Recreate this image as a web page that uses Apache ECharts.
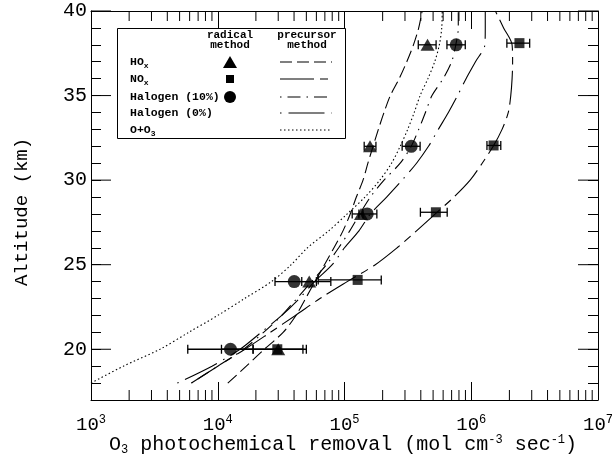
<!DOCTYPE html>
<html>
<head>
<meta charset="utf-8">
<script src="https://cdn.jsdelivr.net/npm/echarts@6/dist/echarts.min.js"></script>
<style>
  html, body { margin: 0; padding: 0; background: #fff; }
  #chart { width: 612px; height: 456px; }
</style>
</head>
<body>
<div id="chart"></div>
<script>
// ---- data (altitude in km, removal in mol cm^-3 s^-1) ----
const curveAlt = [18, 19, 20, 21, 22, 23, 24, 25, 26, 27, 28, 29, 30, 31, 32, 33, 34, 35, 36, 37, 38, 39, 40];

// precursor method curves
const hoxCurve = [1.2e4, 1.68e4, 2.33e4, 3.28e4, 4.14e4, 4.93e4, 5.85e4, 6.95e4, 8.26e4, 9.73e4, 1.11e5, 1.24e5, 1.40e5, 1.53e5, 1.68e5, 1.85e5, 2.05e5, 2.3e5, 2.7e5, 3.1e5, 3.5e5, 3.85e5, 4.1e5];
const noxCurve = [6.2e3, 1.0e4, 1.64e4, 2.6e4, 4.1e4, 6.4e4, 1.05e5, 1.75e5, 2.6e5, 3.7e5, 5.2e5, 7.3e5, 9.8e5, 1.22e6, 1.49e6, 1.75e6, 1.96e6, 2.05e6, 2.1e6, 2.12e6, 2.1e6, 1.8e6, 1.55e6];
const hal10Curve = [6.2e3, 1.0e4, 1.6e4, 2.3e4, 3.2e4, 4.2e4, 5.5e4, 7.2e4, 9.0e4, 1.1e5, 1.32e5, 1.6e5, 2.05e5, 2.75e5, 3.36e5, 3.85e5, 4.35e5, 4.9e5, 6.0e5, 7.0e5, 7.55e5, 7.9e5, 7.9e5];
const hal0Curve = [4.8e3, 9.0e3, 1.5e4, 2.2e4, 3.2e4, 4.4e4, 5.8e4, 8.0e4, 1.0e5, 1.3e5, 1.6e5, 2.15e5, 2.85e5, 3.7e5, 4.6e5, 5.5e5, 6.6e5, 7.8e5, 9.1e5, 1.08e6, 1.28e6, 1.29e6, 1.29e6];
const oo3Curve = [1.0e3, 1.8e3, 3.5e3, 5.9e3, 1.0e4, 1.63e4, 2.65e4, 3.8e4, 5.1e4, 7.5e4, 1.05e5, 1.45e5, 1.9e5, 2.35e5, 2.75e5, 3.15e5, 3.55e5, 3.95e5, 4.55e5, 5.15e5, 5.6e5, 5.85e5, 5.9e5];

// radical method points
const hoxAlt = [20, 24, 28, 32, 38];
const hoxVal = [3.0e4, 5.27e4, 1.35e5, 1.59e5, 4.52e5];
const hoxLo  = [1.07e4, 4.6e4, 1.3e5, 1.43e5, 3.82e5];
const hoxHi  = [4.7e4, 6.0e4, 1.4e5, 1.77e5, 5.28e5];

const noxAlt = [20, 24.1, 28.1, 32.05, 38.1];
const noxVal = [2.95e4, 1.27e5, 5.26e5, 1.5e6, 2.4e6];
const noxLo  = [1.9e4, 6.2e4, 3.97e5, 1.33e6, 1.91e6];
const noxHi  = [5.0e4, 1.95e5, 6.46e5, 1.71e6, 2.89e6];

const halAlt = [20, 24, 28, 32, 38];
const halVal = [1.26e4, 4.01e4, 1.51e5, 3.36e5, 7.6e5];
const halLo  = [5.8e3, 2.83e4, 1.15e5, 2.85e5, 6.43e5];
const halHi  = [1.9e4, 7.8e4, 1.8e5, 3.95e5, 8.97e5];

// axis decorations
const decades = [1e3, 1e4, 1e5, 1e6];
const minorSteps = [2, 3, 4, 5, 6, 7, 8, 9];
const yMajorTicks = [20, 25, 30, 35, 40];

const FONT = 'Liberation Mono';
const dashes = {
  hox: [12, 5],
  nox: [34, 6, 8, 6],
  hal10: [1.5, 6, 13, 6],
  hal0: [1.5, 7, 36, 7],
  oo3: [1.5, 2.5]
};

function curve(name, values, dash) {
  return {
    name: name,
    type: 'line',
    data: curveAlt.map((a, i) => [values[i], a]),
    symbol: 'none',
    smooth: 0.3,
    lineStyle: { color: '#000', width: 1.1, type: dash },
    z: 2
  };
}

function points(symbol, size, vals, alts) {
  return {
    type: 'scatter',
    symbol: symbol,
    symbolSize: size,
    itemStyle: { color: '#000' },
    data: vals.map((v, i) => [v, alts[i]]),
    z: 5
  };
}

function tick(x1, y1, x2, y2) {
  return { type: 'line', shape: { x1: x1, y1: y1, x2: x2, y2: y2 }, style: { stroke: '#000', lineWidth: 1 } };
}

function renderBar(params, api) {
  const alt = api.value(2);
  const a = api.coord([api.value(0), alt]);
  const b = api.coord([api.value(1), alt]);
  const h = 4.5;
  const st = { stroke: '#000', lineWidth: 1.3 };
  return {
    type: 'group',
    children: [
      { type: 'line', shape: { x1: a[0], y1: a[1], x2: b[0], y2: b[1] }, style: st },
      { type: 'line', shape: { x1: a[0], y1: a[1] - h, x2: a[0], y2: a[1] + h }, style: st },
      { type: 'line', shape: { x1: b[0], y1: b[1] - h, x2: b[0], y2: b[1] + h }, style: st }
    ]
  };
}

function errorBars(lo, hi, alts) {
  return {
    type: 'custom',
    renderItem: renderBar,
    encode: { x: [0, 1], y: 2 },
    data: lo.map((l, i) => [l, hi[i], alts[i]]),
    z: 4
  };
}

// minor log ticks, drawn on bottom and top frame
function renderMinorX(params, api) {
  const x = api.coord([api.value(0), api.value(1)])[0];
  const cs = params.coordSys;
  const yb = cs.y + cs.height, yt = cs.y;
  return {
    type: 'group',
    children: [tick(x, yb, x, yb - 10), tick(x, yt, x, yt + 10)]
  };
}

// long altitude ticks, drawn on left and right frame
function renderMajorY(params, api) {
  const y = api.coord([api.value(0), api.value(1)])[1];
  const cs = params.coordSys;
  const xl = cs.x, xr = cs.x + cs.width;
  return {
    type: 'group',
    children: [tick(xl, y, xl + 20, y), tick(xr, y, xr - 20, y)]
  };
}

const minorTickVals = [];
decades.forEach(d => minorSteps.forEach(s => minorTickVals.push([d * s, 20])));

const legendRows = [62, 79, 97, 113, 130];
const legendX1 = 280, legendX2 = 332, legendMk = 230;

function sampleLine(y, dash) {
  return { type: 'line', z: 101, shape: { x1: legendX1, y1: y, x2: legendX2, y2: y }, style: { stroke: '#000', lineWidth: 1.1, lineDash: dash } };
}
function rowText(y, text) {
  return {
    type: 'text', z: 101, x: 130, y: y,
    style: {
      text: text, fill: '#000', fontFamily: FONT, fontSize: 11.5, fontWeight: 'bold', textVerticalAlign: 'middle',
      rich: {
        n: { fontFamily: FONT, fontSize: 11.5, fontWeight: 'bold', lineHeight: 15, fill: '#000' },
        s: { fontFamily: FONT, fontSize: 8, fontWeight: 'bold', lineHeight: 8, verticalAlign: 'bottom', fill: '#000' }
      }
    }
  };
}

const chart = echarts.init(document.getElementById('chart'), null, { renderer: 'canvas' });

chart.setOption({
  animation: false,
  backgroundColor: '#fff',
  textStyle: { fontFamily: FONT, color: '#000' },
  grid: { left: 91, right: 14, top: 11, bottom: 56, containLabel: false, outerBoundsMode: 'none' },
  xAxis: [
    {
      type: 'log', logBase: 10, min: 1e3, max: 1e7, position: 'bottom',
      axisLine: { lineStyle: { color: '#000', width: 1 } },
      axisTick: { inside: true, length: 18, lineStyle: { color: '#000' } },
      splitLine: { show: false },
      axisLabel: {
        margin: 14,
        formatter: v => '{b|10}{s|' + Math.round(Math.log10(v)) + '}',
        rich: {
          b: { fontFamily: FONT, fontSize: 19, lineHeight: 22, color: '#000' },
          s: { fontFamily: FONT, fontSize: 12, lineHeight: 12, verticalAlign: 'top', color: '#000' }
        }
      }
    },
    {
      type: 'log', logBase: 10, min: 1e3, max: 1e7, position: 'top',
      axisLine: { lineStyle: { color: '#000', width: 1 } },
      axisTick: { inside: true, length: 18, lineStyle: { color: '#000' } },
      splitLine: { show: false },
      axisLabel: { show: false }
    }
  ],
  yAxis: [
    {
      type: 'value', min: 17, max: 40, interval: 1, position: 'left',
      axisLine: { lineStyle: { color: '#000', width: 1 } },
      axisTick: { inside: true, length: 10, lineStyle: { color: '#000' } },
      splitLine: { show: false },
      axisLabel: {
        margin: 4, fontSize: 20, color: '#000', fontFamily: FONT,
        formatter: v => (v % 5 === 0 ? String(v) : '')
      }
    },
    {
      type: 'value', min: 17, max: 40, interval: 1, position: 'right',
      axisLine: { lineStyle: { color: '#000', width: 1 } },
      axisTick: { inside: true, length: 10, lineStyle: { color: '#000' } },
      splitLine: { show: false },
      axisLabel: { show: false }
    }
  ],
  series: [
    {
      type: 'custom',
      renderItem: renderMinorX,
      encode: { x: 0, y: 1 },
      data: minorTickVals,
      z: 3
    },
    {
      type: 'custom',
      renderItem: renderMajorY,
      encode: { x: 0, y: 1 },
      data: yMajorTicks.map(v => [1e4, v]),
      z: 3
    },
    curve('HOx', hoxCurve, dashes.hox),
    curve('NOx', noxCurve, dashes.nox),
    curve('Halogen (10%)', hal10Curve, dashes.hal10),
    curve('Halogen (0%)', hal0Curve, dashes.hal0),
    curve('O+O3', oo3Curve, dashes.oo3),
    errorBars(hoxLo, hoxHi, hoxAlt),
    errorBars(noxLo, noxHi, noxAlt),
    errorBars(halLo, halHi, halAlt),
    points('triangle', [14, 12], hoxVal, hoxAlt),
    points('rect', 10, noxVal, noxAlt),
    points('circle', 13, halVal, halAlt)
  ],
  graphic: [
    {
      type: 'text', z: 101, x: 22, y: 212, rotation: Math.PI / 2,
      style: { text: 'Altitude (km)', fontFamily: FONT, fontSize: 19, fill: '#000', textAlign: 'center', textVerticalAlign: 'middle' }
    },
    {
      type: 'text', z: 101, x: 343, y: 445,
      style: {
        text: '{n|O}{sub|3}{n| photochemical removal (mol cm}{sup|-3}{n| sec}{sup|-1}{n|)}',
        textAlign: 'center', textVerticalAlign: 'middle', fill: '#000',
        rich: {
          n: { fontFamily: FONT, fontSize: 20, lineHeight: 22, fill: '#000' },
          sub: { fontFamily: FONT, fontSize: 12, lineHeight: 12, verticalAlign: 'bottom', fill: '#000' },
          sup: { fontFamily: FONT, fontSize: 12, lineHeight: 12, verticalAlign: 'top', fill: '#000' }
        }
      }
    },
    { type: 'rect', z: 100, shape: { x: 117.5, y: 28.5, width: 228, height: 110 }, style: { fill: '#fff', stroke: '#000', lineWidth: 1 } },
    { type: 'text', z: 101, x: 230, y: 30, style: { text: 'radical\nmethod', fontFamily: FONT, fontSize: 11, fontWeight: 'bold', fill: '#000', textAlign: 'center', lineHeight: 10 } },
    { type: 'text', z: 101, x: 307, y: 30, style: { text: 'precursor\nmethod', fontFamily: FONT, fontSize: 11, fontWeight: 'bold', fill: '#000', textAlign: 'center', lineHeight: 10 } },
    rowText(legendRows[0], '{n|HO}{s|x}'),
    rowText(legendRows[1], '{n|NO}{s|x}'),
    rowText(legendRows[2], '{n|Halogen (10%)}'),
    rowText(legendRows[3], '{n|Halogen (0%)}'),
    rowText(legendRows[4], '{n|O+O}{s|3}'),
    { type: 'polygon', z: 101, shape: { points: [[legendMk, legendRows[0] - 6], [legendMk - 7, legendRows[0] + 6], [legendMk + 7, legendRows[0] + 6]] }, style: { fill: '#000' } },
    { type: 'rect', z: 101, shape: { x: legendMk - 4, y: legendRows[1] - 4, width: 8, height: 8 }, style: { fill: '#000' } },
    { type: 'circle', z: 101, shape: { cx: legendMk, cy: legendRows[2], r: 6 }, style: { fill: '#000' } },
    sampleLine(legendRows[0], dashes.hox),
    sampleLine(legendRows[1], dashes.nox),
    sampleLine(legendRows[2], dashes.hal10),
    sampleLine(legendRows[3], dashes.hal0),
    sampleLine(legendRows[4], dashes.oo3)
  ]
});
</script>
</body>
</html>
